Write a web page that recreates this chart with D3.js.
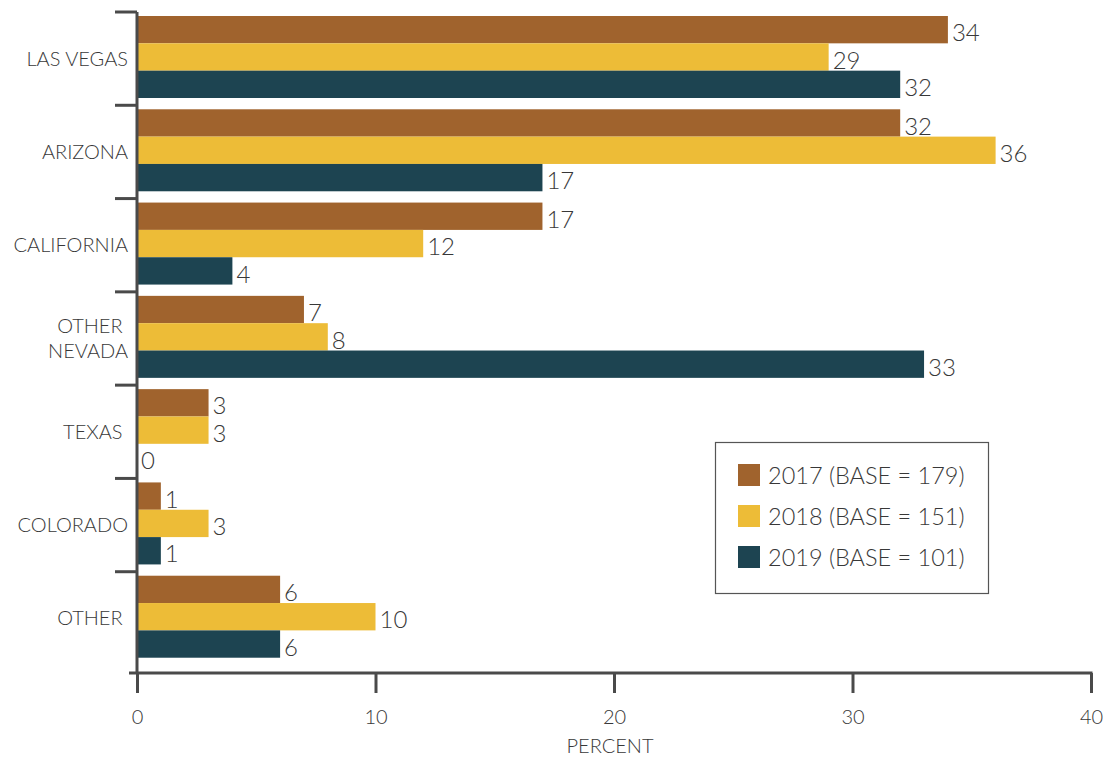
<!DOCTYPE html>
<html>
<head>
<meta charset="utf-8">
<script src="https://cdn.jsdelivr.net/npm/d3@7"></script>
<style>
  html, body { margin: 0; padding: 0; background: #fff; }
  svg { display: block; font-family: Lato, "Noto Sans", sans-serif; font-weight: 300; }
  text { white-space: pre; fill: #383838; }
</style>
</head>
<body>
<svg id="chart" width="1103" height="757"></svg>
<script>
// Origin of visitors, share by year (percent)
const categories = ["LAS VEGAS", "ARIZONA", "CALIFORNIA", "OTHER NEVADA", "TEXAS", "COLORADO", "OTHER"];
// Label lines for each category (trailing spaces kept as in the source labels)
const categoryLines = [["LAS VEGAS"], ["ARIZONA"], ["CALIFORNIA"], ["OTHER ", "NEVADA"], ["TEXAS "], ["COLORADO"], ["OTHER "]];
const seriesNames = ["2017 (BASE = 179)", "2018 (BASE = 151)", "2019 (BASE = 101)"];
const values2017 = [34, 32, 17, 7, 3, 1, 6];
const values2018 = [29, 36, 12, 8, 3, 3, 10];
const values2019 = [32, 17, 4, 33, 0, 1, 6];
const xTicks = [0, 10, 20, 30, 40];
const colors = ["#A0632D", "#EDBC37", "#1D4451"];

const seriesValues = [values2017, values2018, values2019];
const svg = d3.select("#chart");
const axisColor = "#4a4a4a";
const textColor = "#383838";

const x = d3.scaleLinear().domain([0, 40]).range([137, 1091]);
const y = d3.scaleBand().domain(categories).range([12, 665]);
const inner = d3.scaleBand().domain(d3.range(3)).range([4, 86]);

const rows = [];
categories.forEach((c, i) => {
  seriesValues.forEach((vals, s) => rows.push({ c, s, v: vals[i] }));
});

// Bars
svg.append("g").selectAll("rect").data(rows).join("rect")
  .attr("x", x(0))
  .attr("y", d => y(d.c) + inner(d.s))
  .attr("width", d => x(d.v) - x(0))
  .attr("height", inner.bandwidth())
  .attr("fill", d => colors[d.s]);

// Value labels
svg.append("g").selectAll("text").data(rows).join("text")
  .attr("x", d => x(d.v) + 4)
  .attr("y", d => y(d.c) + inner(d.s) + inner.bandwidth() - 2)
  .attr("font-size", 24)
  .text(d => d.v);

// Y axis: vertical line and ticks at group boundaries
svg.append("line")
  .attr("x1", x(0)).attr("x2", x(0))
  .attr("y1", y.range()[0]).attr("y2", 674)
  .attr("stroke", axisColor).attr("stroke-width", 3);
svg.append("g").selectAll("line").data(categories).join("line")
  .attr("x1", 115).attr("x2", x(0))
  .attr("y1", d => y(d)).attr("y2", d => y(d))
  .attr("stroke", axisColor).attr("stroke-width", 3);

// Category labels
const catG = svg.append("g");
categories.forEach((c, i) => {
  const lines = categoryLines[i];
  const cy = y(c) + y.bandwidth() / 2;
  const lh = 25;
  const t = catG.append("text")
    .attr("text-anchor", "end")
    .attr("font-size", 20);
  lines.forEach((ln, j) => {
    t.append("tspan")
      .attr("x", 128)
      .attr("y", cy + 7 + (j - (lines.length - 1) / 2) * lh)
      .text(ln);
  });
});

// X axis
svg.append("line")
  .attr("x1", 129).attr("x2", x(40) + 1.5)
  .attr("y1", 673).attr("y2", 673)
  .attr("stroke", axisColor).attr("stroke-width", 3);
const xAxis = svg.append("g")
  .attr("transform", "translate(0,673)")
  .call(d3.axisBottom(x).tickValues(xTicks).tickSize(20).tickSizeOuter(0).tickPadding(17));
xAxis.select(".domain").remove();
xAxis.selectAll(".tick line").attr("stroke", axisColor).attr("stroke-width", 3);
xAxis.selectAll(".tick text")
  .attr("font-family", "Lato, 'Noto Sans', sans-serif")
  .attr("font-weight", 300)
  .attr("font-size", 20)
  .attr("fill", textColor);

svg.append("text")
  .attr("x", (129 + x(40)) / 2)
  .attr("y", 753)
  .attr("text-anchor", "middle")
  .attr("font-size", 20)
  .text("PERCENT");

// Legend
const legend = svg.append("g");
legend.append("rect")
  .attr("x", 715.5).attr("y", 442.5)
  .attr("width", 273).attr("height", 151)
  .attr("fill", "#fff").attr("stroke", "#555").attr("stroke-width", 1.2);
seriesNames.forEach((name, i) => {
  const top = 464 + i * 41;
  legend.append("rect")
    .attr("x", 738).attr("y", top)
    .attr("width", 22).attr("height", 22)
    .attr("fill", colors[i]);
  legend.append("text")
    .attr("x", 768).attr("y", top + 20)
    .attr("font-size", 23.5)
    .text(name);
});
</script>
</body>
</html>
